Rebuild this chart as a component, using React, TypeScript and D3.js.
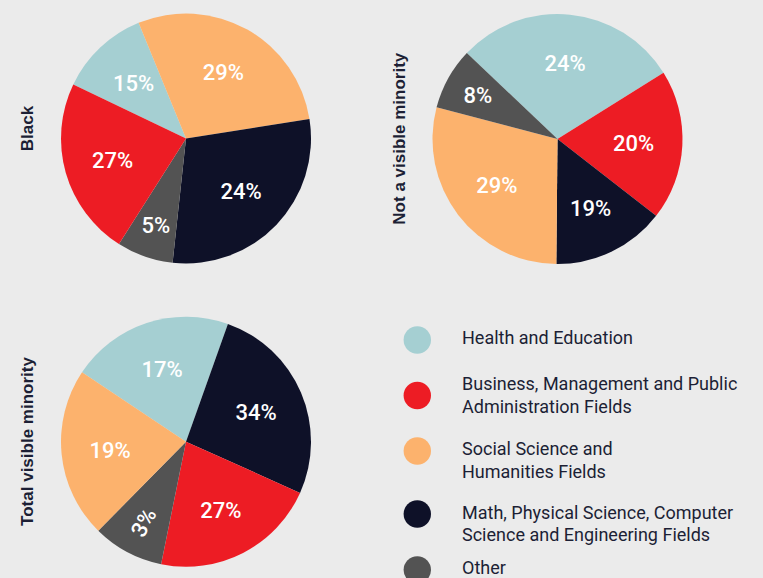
import React from "react";
import * as d3 from "d3";

// ---- Data ----
const categories = [
  "Health and Education",
  "Business, Management and Public Administration Fields",
  "Social Science and Humanities Fields",
  "Math, Physical Science, Computer Science and Engineering Fields",
  "Other",
];
const legendLines = [
  ["Health and Education"],
  ["Business, Management and Public", "Administration Fields"],
  ["Social Science and", "Humanities Fields"],
  ["Math, Physical Science, Computer", "Science and Engineering Fields"],
  ["Other"],
];
const categoryColors = ["#a5cfd2", "#ed1c24", "#fcb26d", "#0e1128", "#535353"];

// Black
const blackOrder = [0, 2, 3, 4, 1];
const blackShares = [11.7, 28.7, 29.2, 7.3, 23.1];
const blackLabels = [15, 29, 24, 5, 27];

// Not a visible minority
const notVmOrder = [0, 1, 3, 2, 4];
const notVmShares = [29.0, 19.4, 14.6, 28.9, 8.0];
const notVmLabels = [24, 20, 19, 29, 8];

// Total visible minority
const totalVmOrder = [0, 3, 1, 4, 2];
const totalVmShares = [21.1, 26.3, 21.5, 9.2, 22.0];
const totalVmLabels = [17, 34, 27, 3, 19];

const panelTitles = ["Black", "Not a visible minority", "Total visible minority"];

// ---- Layout ----
const W = 763;
const H = 578;
const R = 125;
const TEXT = "#1c1f35";
const BG = "#ebebeb";

const panels = [
  { title: panelTitles[0], order: blackOrder, shares: blackShares, labels: blackLabels, cx: 186, cy: 138.5, startDeg: -64.4, titleX: 33, titleY: 128.5 },
  { title: panelTitles[1], order: notVmOrder, shares: notVmShares, labels: notVmLabels, cx: 557.5, cy: 139, startDeg: -46.5, titleX: 405, titleY: 138.7 },
  { title: panelTitles[2], order: totalVmOrder, shares: totalVmShares, labels: totalVmLabels, cx: 186, cy: 441.7, startDeg: -56.3, titleX: 33.3, titleY: 441.5 },
];

const legendCircleY = [340, 395.5, 451, 514, 570];
const legendTextY = [344.3, 390, 455.2, 518.5, 574.3];

type Slice = { cat: number; share: number; label: number };

function PiePanel({ p }: { p: (typeof panels)[number] }) {
  const data: Slice[] = p.order.map((cat, i) => ({ cat, share: p.shares[i], label: p.labels[i] }));
  const start = (p.startDeg * Math.PI) / 180;
  const pie = d3
    .pie<Slice>()
    .sort(null)
    .value((d) => d.share)
    .startAngle(start)
    .endAngle(start + 2 * Math.PI);
  const arcs = pie(data);
  const arc = d3.arc<d3.PieArcDatum<Slice>>().innerRadius(0).outerRadius(R);
  const total = d3.sum(data, (d) => d.share);
  return (
    <g>
      <text
        transform={`translate(${p.titleX},${p.titleY}) rotate(-90)`}
        textAnchor="middle"
        fontFamily="'Liberation Sans', Arial, sans-serif"
        fontWeight={700}
        fontSize={17}
        fill={TEXT}
      >
        {p.title}
      </text>
      <g transform={`translate(${p.cx},${p.cy})`}>
        {arcs.map((a, i) => (
          <path key={i} d={arc(a) || ""} fill={categoryColors[a.data.cat]} />
        ))}
        {arcs.map((a, i) => {
          const frac = a.data.share / total;
          const lr = frac < 0.1 ? R * 0.73 : R * 0.61;
          const mid = (a.startAngle + a.endAngle) / 2;
          const x = Math.sin(mid) * lr;
          const y = -Math.cos(mid) * lr;
          const rot = a.data.label < 4 ? (mid * 180) / Math.PI - 270 : 0;
          return (
            <text
              key={"l" + i}
              transform={`translate(${x},${y}) rotate(${rot})`}
              textAnchor="middle"
              dy="0.37em"
              fontFamily="Roboto, 'Liberation Sans', sans-serif"
              fontWeight={500}
              fontSize={22}
              fill="#ffffff"
            >
              {a.data.label}%
            </text>
          );
        })}
      </g>
    </g>
  );
}

export default function App() {
  return (
    <svg
      width={W}
      height={H}
      style={{ position: "absolute", left: 0, top: 0, display: "block" }}
    >
      <rect x={0} y={0} width={W} height={H} fill={BG} />
      {panels.map((p, i) => (
        <PiePanel key={i} p={p} />
      ))}
      <g>
        {categories.map((c, i) => (
          <g key={c}>
            <circle cx={417.3} cy={legendCircleY[i]} r={13.7} fill={categoryColors[i]} />
            <text
              x={462}
              y={legendTextY[i]}
              fontFamily="Roboto, 'Liberation Sans', sans-serif"
              fontSize={18}
              fill={TEXT}
            >
              {legendLines[i].map((line, j) => (
                <tspan key={j} x={462} dy={j === 0 ? 0 : 22.6}>
                  {line}
                </tspan>
              ))}
            </text>
          </g>
        ))}
      </g>
    </svg>
  );
}
